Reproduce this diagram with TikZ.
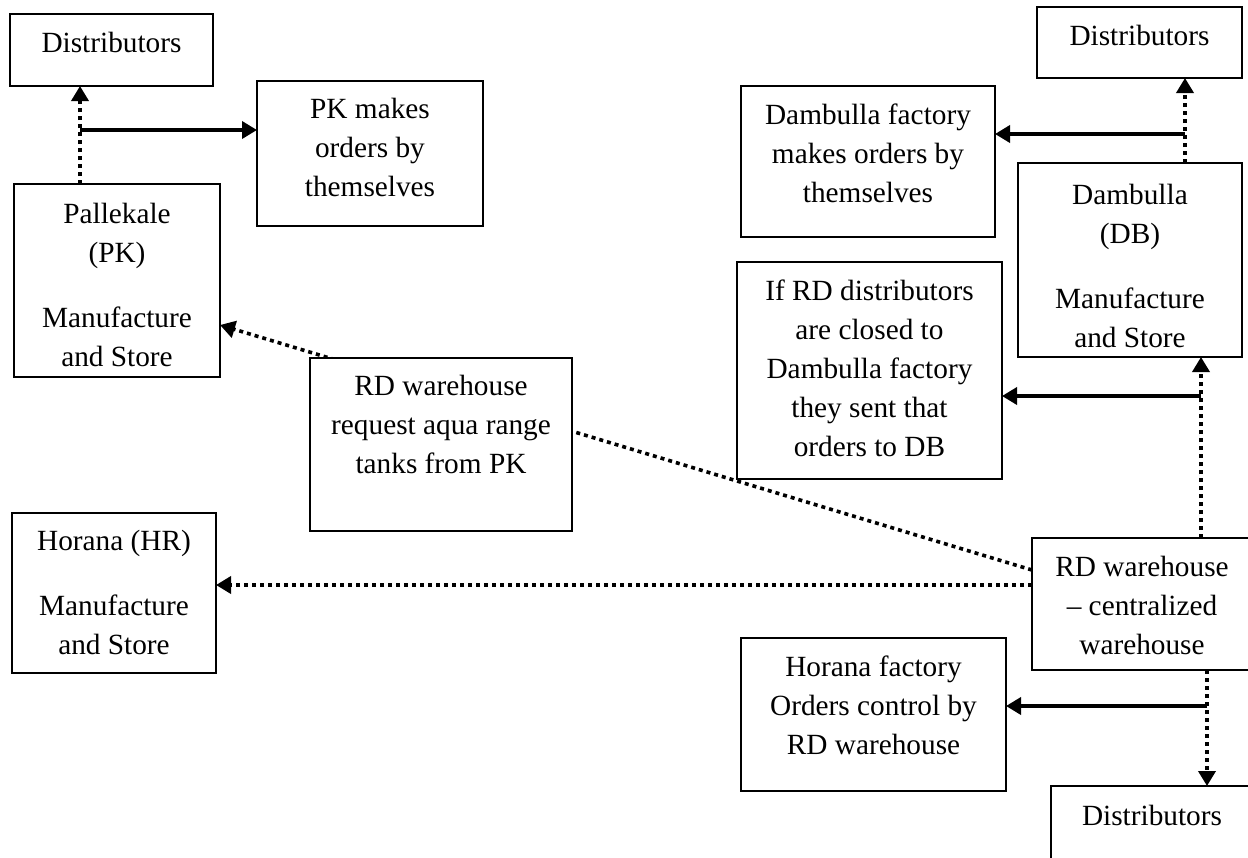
\documentclass[tikz,border=0pt]{standalone}
\usepackage{fontspec}
\setmainfont{Liberation Serif}
\usetikzlibrary{arrows.meta}
\pgfdeclarelayer{bg}
\pgfsetlayers{bg,main}

\begin{document}
\begin{tikzpicture}[x = 1pt, y = -1pt, font = \fontsize{29.3}{39}\selectfont,
  >={Triangle[length = 15pt, width = 17pt]},
  box/.style = {draw, line width = 2pt, fill = white, anchor = north, align = flush center, inner sep = 0pt, outer sep = 0pt},
  dots/.style = {->, line width = 3.6pt, dash pattern = on 4pt off 4pt},
  link/.style = {->, line width = 3.6pt}]
  \useasboundingbox (0,0) rectangle (1248,857);
  \node[box, text width = 203pt, text height = 38pt, text depth = 34pt] (dist1) at (111.5,14) {Distributors};
  \node[box, text width = 226pt, text height = 37pt, text depth = 108pt] (pk) at (370,81) {PK makes\\orders by\\themselves};
  \node[box, text width = 206pt, text height = 39pt, text depth = 154pt] (pal) at (117,184) {Pallekale\\(PK)\\[26pt]Manufacture\\and Store};
  \node[box, text width = 262pt, text height = 37pt, text depth = 136pt] (req) at (441,358) {RD warehouse\\request aqua range\\tanks from PK};
  \node[box, text width = 204pt, text height = 37pt, text depth = 123pt] (hr) at (114,513) {Horana (HR)\\[26pt]Manufacture\\and Store};
  \node[box, text width = 205pt, text height = 38pt, text depth = 33pt] (dist2) at (1139.5,7) {Distributors};
  \node[box, text width = 254pt, text height = 38pt, text depth = 113pt] (dfac) at (868,86) {Dambulla factory\\makes orders by\\themselves};
  \node[box, text width = 224pt, text height = 41pt, text depth = 153pt] (db) at (1130,163) {Dambulla\\(DB)\\[26pt]Manufacture\\and Store};
  \node[box, text width = 265pt, text height = 38pt, text depth = 179pt] (ifrd) at (869.5,262) {If RD distributors\\are closed to\\Dambulla factory\\they sent that\\orders to DB};
  \node[box, text width = 220pt, text height = 38pt, text depth = 94pt] (rdw) at (1142,538) {RD warehouse\\-- centralized\\warehouse};
  \node[box, text width = 265pt, text height = 38pt, text depth = 115pt] (hfac) at (873.5,638) {Horana factory\\Orders control by\\RD warehouse};
  \node[box, text width = 202pt, text height = 39pt, text depth = 36pt] (dist3) at (1152,786) {Distributors};
  % Pallekale side
  \coordinate (pkj) at (80,130);
  \draw[dots] (pkj |- pal.north) -- (pkj |- dist1.south);
  \draw[link] (pkj) -- (pkj -| pk.west);
  % Dambulla side
  \coordinate (dbj) at (1185,134);
  \draw[dots] (dbj |- db.north) -- (dbj |- dist2.south);
  \draw[link] (dbj) -- (dbj -| dfac.east);
  \coordinate (rdj) at (1201,396);
  \draw[dots] (rdj |- rdw.north) -- (rdj |- db.south);
  \draw[link] (rdj) -- (rdj -| ifrd.east);
  % Horana side
  \coordinate (hfj) at (1207,706);
  \draw[dots] (hfj |- rdw.south) -- (hfj |- dist3.north);
  \draw[link] (hfj) -- (hfj -| hfac.east);
  \coordinate (hrj) at ([yshift = 19pt]rdw.west);
  \draw[dots] (hrj) -- (hrj -| hr.east);
  \begin{pgfonlayer}{bg}
    \draw[dots] ([yshift = 34pt]rdw.west) -- ([yshift = -44.5pt]pal.east);
  \end{pgfonlayer}
\end{tikzpicture}
\end{document}
